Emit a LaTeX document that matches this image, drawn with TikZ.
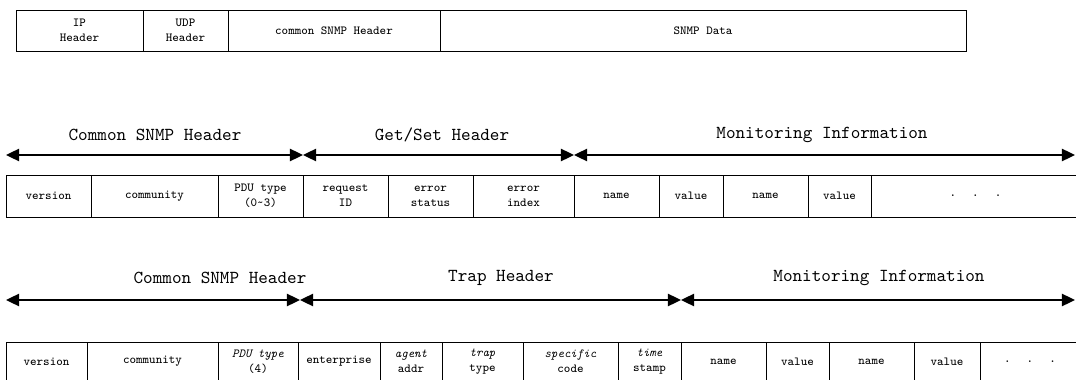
\documentclass[tikz,border=0pt]{standalone}
\usetikzlibrary{arrows.meta,positioning}
\tikzset{
  cell/.style={draw, line width=0.5pt, inner sep=0pt, align=center, font=\ttfamily\fontsize{7}{8.5}\selectfont},
  span/.style={{Triangle[length=7.5pt,width=7pt]}-{Triangle[length=7.5pt,width=7pt]}, line width=1.1pt},
  title/.style={font=\ttfamily\fontsize{10.4}{12}\selectfont},
}
\begin{document}
\begin{tikzpicture}[x=0.2mm,y=-0.2mm]
    \useasboundingbox (0,0) rectangle (1076,380);
    \clip (0,0) rectangle (1076,380);
    % Packet
    \foreach \a/\b/\n/\t in {16/143/ip/{IP\\Header}, 143/228/udp/{UDP\\Header},
        228/440/hdr/{common SNMP Header}, 440/966/data/{SNMP Data}}
      \node[cell, minimum width={(\b-\a)*0.2mm}, minimum height=41*0.2mm] (p-\n) at ({(\a+\b)/2},30.5) {\t};
    % Get/Set PDU
    \coordinate (g0) at (6,155); \coordinate (g1) at (303,155);
    \coordinate (g2) at (574,155); \coordinate (g3) at (1075,155);
    \draw [span] (g0) -- (g1); \node[title] (g-com) at (155,135) {Common SNMP Header};
    \draw [span] (g1) -- (g2); \node[title] (g-hdr) at (442,135) {Get/Set Header};
    \draw [span] (g2) -- (g3); \node[title] (g-mon) at (822,135) {Monitoring Information};
    \foreach \a/\b/\n/\t in {6/91/ver/version, 91/218/com/community, 218/303/pdu/{PDU type\\(0\textasciitilde3)},
        303/388/rid/{request\\ID}, 388/473/est/{error\\status}, 473/574/eix/{error\\index},
        574/659/n1/name, 659/723/v1/value, 723/808/n2/name, 808/871/v2/value,
        871/1080/more/{.\hspace{1.3em}.\hspace{1.3em}.}}
      \node[cell, minimum width={(\b-\a)*0.2mm}, minimum height=42*0.2mm] (g-\n) at ({(\a+\b)/2},196) {\t};
    % Trap PDU
    \coordinate (t0) at (6,300); \coordinate (t1) at (300,300);
    \coordinate (t2) at (681,300); \coordinate (t3) at (1075,300);
    \draw [span] (t0) -- (t1); \node[title] (t-com) at (220,278) {Common SNMP Header};
    \draw [span] (t1) -- (t2); \node[title] (t-hdr) at (501,278) {Trap Header};
    \draw [span] (t2) -- (t3); \node[title] (t-mon) at (879,278) {Monitoring Information};
    \foreach \a/\b/\n/\t in {6/87/ver/version, 87/218/com/community, 218/298/pdu/{\textit{PDU type}\\(4)},
        298/380/ent/enterprise, 380/442/agt/{\textit{agent}\\addr}, 442/523/trp/{\textit{trap}\\type},
        523/618/spc/{\textit{specific}\\code}, 618/681/tim/{\textit{time}\\stamp},
        681/766/n1/name, 766/829/v1/value, 829/914/n2/name, 914/980/v2/value,
        980/1080/more/{.\hspace{1.3em}.\hspace{1.3em}.}}
      \node[cell, minimum width={(\b-\a)*0.2mm}, minimum height=39*0.2mm] (t-\n) at ({(\a+\b)/2},361.5) {\t};
\end{tikzpicture}
\end{document}
